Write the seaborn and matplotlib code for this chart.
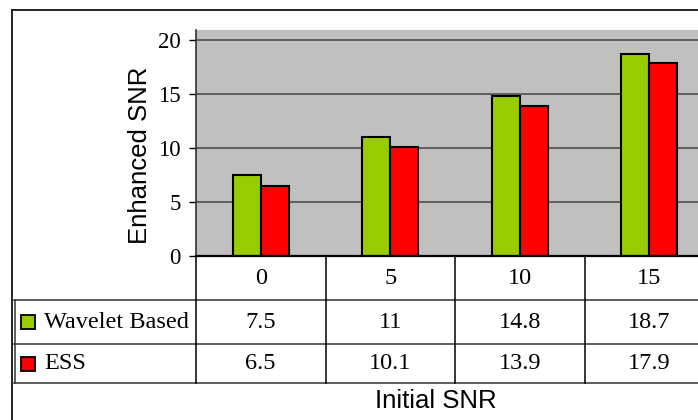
import matplotlib
matplotlib.use("Agg")
import matplotlib.pyplot as plt
from matplotlib.lines import Line2D
from matplotlib.patches import Rectangle
import seaborn as sns
import pandas as pd

# ---- data ----
categories = ["0", "5", "10", "15"]
wavelet = [7.5, 11, 14.8, 18.7]
ess = [6.5, 10.1, 13.9, 17.9]
series_names = ["Wavelet Based", "ESS"]
yticks = [0, 5, 10, 15, 20]

GREEN = "#99cc00"
RED = "#ff0000"
SERIF = "Liberation Serif"
SANS = "Liberation Sans"

df = pd.DataFrame({
    "snr": categories * 2,
    "value": wavelet + ess,
    "method": [series_names[0]] * len(categories) + [series_names[1]] * len(categories),
})

W, H = 698, 420
fig = plt.figure(figsize=(W / 100, H / 100), dpi=100)

def fx(px):
    return px / W

def fy(py):
    return 1 - py / H

# geometry (pixels)
L, R, T, B = 196, 714, 29.5, 256
colw = (R - L) / len(categories)

ax = fig.add_axes([fx(L), fy(B), (R - L) / W, (B - T) / H])
sns.barplot(data=df, x="snr", y="value", hue="method", order=categories,
            hue_order=series_names, palette=[GREEN, RED], width=0.43,
            edgecolor="black", linewidth=1.5, saturation=1, legend=False,
            errorbar=None, ax=ax, zorder=3)
ax.set_facecolor("#c0c0c0")
ax.set_xlim(-0.5, len(categories) - 0.5)
ax.set_ylim(0, 21)
ax.set_yticks(yticks)
ax.set_yticklabels([str(v) for v in yticks], family=SERIF, fontsize=16.5)
ax.set_xticks([])
ax.set_xlabel("")
ax.set_ylabel("")
ax.tick_params(axis="y", length=4.8, width=1.0, color="black", pad=6)
ax.yaxis.grid(True, color="#4d4d4d", linewidth=1.2, zorder=0)
ax.set_axisbelow(True)
for s in ["right", "top"]:
    ax.spines[s].set_visible(False)
ax.spines["left"].set_color("#333333")
ax.spines["left"].set_linewidth(1.2)
ax.spines["bottom"].set_color("black")
ax.spines["bottom"].set_linewidth(1.6)
ax.spines["bottom"].set_zorder(5)

# ---- data table ----
TL, TB = 12, 383
tax = fig.add_axes([fx(TL), fy(TB), (R - TL) / W, (TB - B) / H])
x0 = -0.5 - (L - TL) / colw
tax.set_xlim(x0, len(categories) - 0.5)
tax.set_ylim(TB, B)
tax.axis("off")

def px2x(px):
    return -0.5 + (px - L) / colw

lc = "#333333"
for yy in [300, 344, 382.5]:
    tax.plot([px2x(14), len(categories) - 0.5], [yy, yy], color=lc, lw=1.1, clip_on=False)
for i in range(len(categories)):
    tax.plot([i - 0.5, i - 0.5], [B, TB], color="black", lw=1.1, clip_on=False)
tax.plot([px2x(14.5), px2x(14.5)], [300, 383], color=lc, lw=1.1, clip_on=False)

TFS = 17.5
for i, c in enumerate(categories):
    tax.text(i, 278, c, ha="center", va="center", family=SERIF, fontsize=TFS)
rows = [(wavelet, 322, GREEN, series_names[0]), (ess, 363.5, RED, series_names[1])]
for vals, yc, col, name in rows:
    for i, v in enumerate(vals):
        tax.text(i, yc, f"{v:g}", ha="center", va="center", family=SERIF, fontsize=TFS)
    tax.add_patch(Rectangle((px2x(21), yc - 7), 14 / colw, 14, facecolor=col,
                            edgecolor="black", lw=1.3, clip_on=False))
    tax.text(px2x(44), yc, name, ha="left", va="center", family=SERIF, fontsize=TFS)

# axis titles
fig.text(fx(140), fy(155), "Enhanced SNR", rotation=90, ha="center", va="center",
         family=SANS, fontsize=18.5)
fig.text(fx(436), fy(401), "Initial SNR", ha="center", va="center",
         family=SANS, fontsize=18.5)

# outer chart frame
fig.add_artist(Line2D([fx(12), 1.0], [fy(10), fy(10)], color="black", lw=1.2))
fig.add_artist(Line2D([fx(12), fx(12)], [fy(10), 0.0], color="black", lw=1.2))

fig.savefig("out.png", dpi=100)
